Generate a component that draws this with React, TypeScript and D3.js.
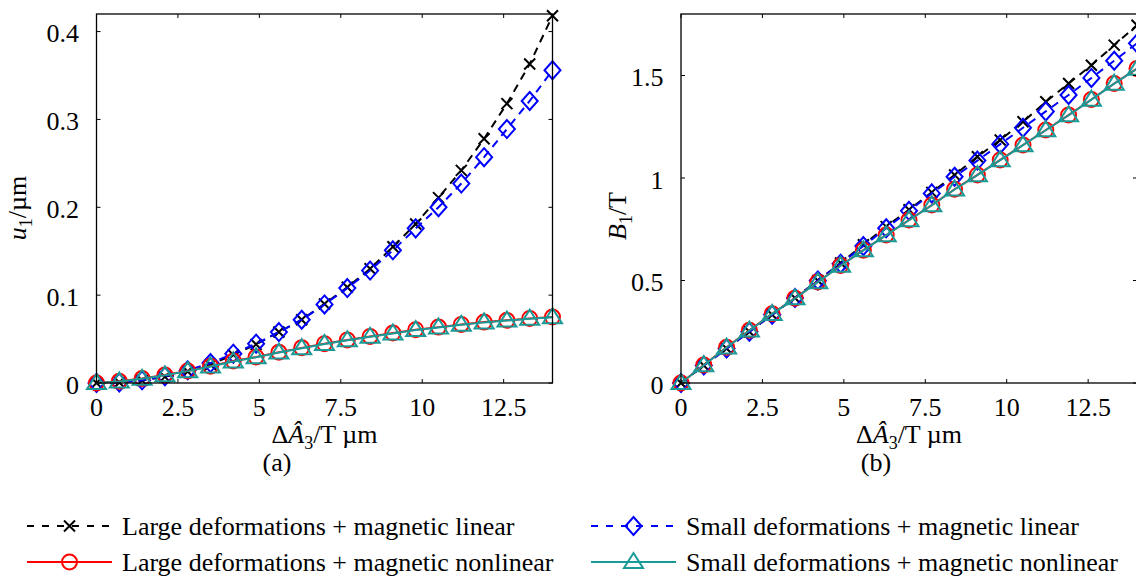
import React from "react";
import * as d3 from "d3";

// excitation values (shared by both panels)
const xValues = [0, 0.7, 1.4, 2.1, 2.8, 3.5, 4.2, 4.9, 5.6, 6.3, 7.0, 7.7, 8.4, 9.1, 9.8, 10.5, 11.2, 11.9, 12.6, 13.3, 14];

// panel (a): u1 in um
const uLargeLinear = [0, 0.0005, 0.003, 0.007, 0.013, 0.021, 0.032, 0.044, 0.058, 0.072, 0.09, 0.109, 0.13, 0.155, 0.181, 0.211, 0.242, 0.278, 0.318, 0.363, 0.418];
const uSmallLinear = [0, 0.0005, 0.003, 0.0076, 0.0144, 0.0227, 0.0334, 0.0448, 0.058, 0.072, 0.0894, 0.108, 0.128, 0.151, 0.176, 0.2, 0.227, 0.257, 0.289, 0.321, 0.356];
const uLargeNonlinear = [0, 0.002, 0.005, 0.009, 0.0137, 0.019, 0.025, 0.0296, 0.035, 0.04, 0.0448, 0.049, 0.053, 0.0568, 0.0607, 0.0636, 0.0667, 0.0693, 0.0713, 0.0735, 0.075];
const uSmallNonlinear = [0, 0.0018, 0.0048, 0.0088, 0.0135, 0.0188, 0.0245, 0.0293, 0.0346, 0.0396, 0.0444, 0.0486, 0.0526, 0.0564, 0.0602, 0.0632, 0.0663, 0.069, 0.071, 0.0732, 0.0748];

// panel (b): B1 in T
const bLargeLinear = [0, 0.085, 0.168, 0.25, 0.333, 0.415, 0.5, 0.585, 0.674, 0.763, 0.845, 0.93, 1.015, 1.104, 1.185, 1.274, 1.372, 1.461, 1.55, 1.648, 1.745];
const bSmallLinear = [0, 0.085, 0.168, 0.25, 0.333, 0.415, 0.5, 0.582, 0.668, 0.755, 0.84, 0.925, 1.006, 1.085, 1.165, 1.245, 1.325, 1.405, 1.488, 1.572, 1.657];
const bLargeNonlinear = [0, 0.088, 0.174, 0.257, 0.338, 0.414, 0.493, 0.573, 0.648, 0.722, 0.795, 0.868, 0.945, 1.015, 1.088, 1.161, 1.234, 1.307, 1.383, 1.461, 1.534];
const bSmallNonlinear = [0, 0.087, 0.173, 0.256, 0.337, 0.413, 0.492, 0.572, 0.647, 0.721, 0.794, 0.867, 0.944, 1.014, 1.087, 1.16, 1.233, 1.306, 1.382, 1.46, 1.533];

const xTicks = [0, 2.5, 5, 7.5, 10, 12.5];
const uTicks = [0, 0.1, 0.2, 0.3, 0.4];
const bTicks = [0, 0.5, 1, 1.5];

const seriesNames = [
  "Large deformations + magnetic linear",
  "Small deformations + magnetic linear",
  "Large deformations + magnetic nonlinear",
  "Small deformations + magnetic nonlinear",
];

const FONT = "'Liberation Serif', 'Times New Roman', serif";
const FS = 26;
const TEAL = "#1a9a96";

const styles = [
  { color: "#000", dash: "8,6", marker: "cross" },
  { color: "#0000ff", dash: "8,6", marker: "diamond" },
  { color: "#ff0000", dash: null, marker: "circle" },
  { color: TEAL, dash: null, marker: "triangle" },
];

function Marker({ type, x, y, color }) {
  const sw = 2;
  if (type === "cross") {
    const s = 5.5;
    return (
      <path
        d={`M${x - s},${y - s}L${x + s},${y + s}M${x - s},${y + s}L${x + s},${y - s}`}
        stroke={color}
        strokeWidth={sw}
        fill="none"
      />
    );
  }
  if (type === "diamond") {
    return (
      <path
        d={`M${x},${y - 9}L${x + 8},${y}L${x},${y + 9}L${x - 8},${y}Z`}
        stroke={color}
        strokeWidth={sw}
        fill="none"
      />
    );
  }
  if (type === "circle") {
    return <circle cx={x} cy={y} r={7.5} stroke={color} strokeWidth={sw} fill="none" />;
  }
  return (
    <path
      d={`M${x},${y - 9}L${x + 9.5},${y + 6}L${x - 9.5},${y + 6}Z`}
      stroke={color}
      strokeWidth={sw}
      fill="none"
    />
  );
}

function Panel({ left, right, top, bottom, yMax, yTicks, data, yLabel, yLabelPos, caption, captionX }) {
  const x = d3.scaleLinear().domain([0, 14]).range([left, right]);
  const y = d3.scaleLinear().domain([0, yMax]).range([bottom, top]);
  const line = d3
    .line<number>()
    .x((d, i) => x(xValues[i]))
    .y((d) => y(d));
  const tl = 4;
  const mid = (left + right) / 2;

  return (
    <g>
      {/* series */}
      {data.map((vals, k) => (
        <g key={k}>
          <path
            d={line(vals)}
            fill="none"
            stroke={styles[k].color}
            strokeWidth={2}
            strokeDasharray={styles[k].dash || undefined}
          />
          {vals.map((v, i) => (
            <Marker key={i} type={styles[k].marker} x={x(xValues[i])} y={y(v)} color={styles[k].color} />
          ))}
        </g>
      ))}

      {/* box */}
      <rect x={left} y={top} width={right - left} height={bottom - top} fill="none" stroke="#000" strokeWidth={1.3} />

      {/* x ticks */}
      {xTicks.map((t) => (
        <g key={t}>
          <line x1={x(t)} x2={x(t)} y1={bottom} y2={bottom - tl} stroke="#000" strokeWidth={1} />
          <line x1={x(t)} x2={x(t)} y1={top} y2={top + tl} stroke="#000" strokeWidth={1} />
          <text x={x(t)} y={bottom + 33} textAnchor="middle" fontSize={FS} fontFamily={FONT}>
            {String(t)}
          </text>
        </g>
      ))}

      {/* y ticks */}
      {yTicks.map((t) => (
        <g key={t}>
          <line x1={left} x2={left + tl} y1={y(t)} y2={y(t)} stroke="#000" strokeWidth={1} />
          <line x1={right} x2={right - tl} y1={y(t)} y2={y(t)} stroke="#000" strokeWidth={1} />
          <text x={left - 17.5} y={y(t) + 10.5} textAnchor="end" fontSize={FS} fontFamily={FONT}>
            {String(t)}
          </text>
        </g>
      ))}

      {/* x title */}
      <text x={mid} y={bottom + 60} textAnchor="middle" fontSize={FS} fontFamily={FONT}>
        Δ<tspan fontStyle="italic">Â</tspan>
        <tspan dy={6} fontSize={18}>3</tspan>
        <tspan dy={-6}>/T µm</tspan>
      </text>

      {/* y title */}
      <text
        transform={`translate(${yLabelPos[0]},${yLabelPos[1]}) rotate(-90)`}
        textAnchor="middle"
        fontSize={FS}
        fontFamily={FONT}
      >
        <tspan fontStyle="italic">{yLabel[0]}</tspan>
        <tspan dy={6} fontSize={18}>1</tspan>
        <tspan dy={-6}>{yLabel[1]}</tspan>
      </text>

      <text x={captionX} y={bottom + 88} textAnchor="middle" fontSize={FS} fontFamily={FONT}>
        {caption}
      </text>
    </g>
  );
}

function LegendItem({ k, x0, y0 }) {
  const s = styles[k];
  return (
    <g>
      <line
        x1={x0}
        x2={x0 + 85}
        y1={y0}
        y2={y0}
        stroke={s.color}
        strokeWidth={2}
        strokeDasharray={s.dash ? "7,8" : undefined}
      />
      <Marker type={s.marker} x={x0 + 42.5} y={y0} color={s.color} />
      <text x={x0 + 95} y={y0 + 9} fontSize={FS} fontFamily={FONT}>
        {seriesNames[k]}
      </text>
    </g>
  );
}

export default function App() {
  return (
    <svg
      width={1136}
      height={579}
      style={{ position: "absolute", left: 0, top: 0, background: "#fff" }}
    >
      <Panel
        left={96.5}
        right={552.5}
        top={14}
        bottom={383}
        yMax={0.42}
        yTicks={uTicks}
        data={[uLargeLinear, uSmallLinear, uLargeNonlinear, uSmallNonlinear]}
        yLabel={["u", "/µm"]}
        yLabelPos={[26, 208]}
        caption="(a)"
        captionX={277}
      />
      <Panel
        left={681}
        right={1137}
        top={14}
        bottom={383}
        yMax={1.8}
        yTicks={bTicks}
        data={[bLargeLinear, bSmallLinear, bLargeNonlinear, bSmallNonlinear]}
        yLabel={["B", "/T"]}
        yLabelPos={[626, 216]}
        caption="(b)"
        captionX={876}
      />
      <LegendItem k={0} x0={27} y0={526} />
      <LegendItem k={1} x0={591} y0={526} />
      <LegendItem k={2} x0={27} y0={562} />
      <LegendItem k={3} x0={591} y0={562} />
    </svg>
  );
}
